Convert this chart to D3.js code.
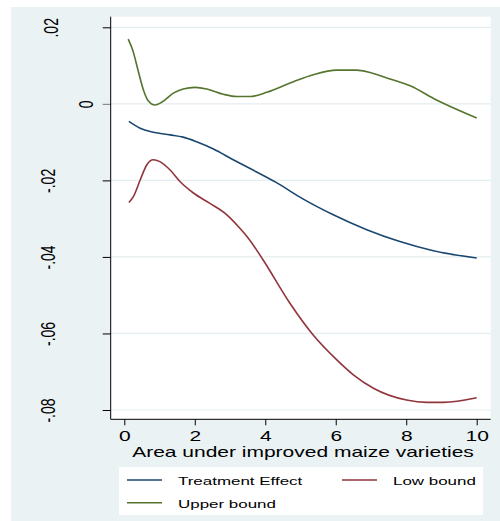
<!DOCTYPE html>
<html>
<head>
<meta charset="utf-8">
<script src="https://cdn.jsdelivr.net/npm/d3@7"></script>
<style>
  body { margin: 0; background: #fff; }
  svg { display: block; font-family: "Liberation Sans", Arial, sans-serif; }
</style>
</head>
<body>
<div id="chart"></div>
<script>
// values: [area, effect]
var treatment = [[0.13,-0.0046],[0.45,-0.0064],[0.82,-0.0074],[1.30,-0.0081],[1.67,-0.0087],
  [2.05,-0.0099],[2.53,-0.0118],[3.09,-0.0146],[3.57,-0.0169],[4.32,-0.0206],[5.08,-0.0249],
  [5.93,-0.0290],[6.88,-0.0329],[7.82,-0.0360],[8.77,-0.0384],[10.0,-0.0403]];

var upper = [[0.11,0.0169],[0.24,0.0140],[0.40,0.0084],[0.54,0.0037],[0.68,0.0008],[0.87,-0.0003],
  [1.06,0.0004],[1.39,0.0028],[1.67,0.0039],[2.01,0.0043],[2.34,0.0039],[2.81,0.0025],[3.19,0.0019],
  [3.57,0.0019],[4.04,0.0030],[4.80,0.0058],[5.36,0.0076],[6.03,0.0088],[6.59,0.0088],[6.97,0.0082],
  [7.54,0.0065],[8.11,0.0047],[8.86,0.0010],[10.0,-0.0037]];

var low = [[0.13,-0.0258],[0.26,-0.0242],[0.45,-0.0199],[0.64,-0.0159],[0.82,-0.0146],[1.01,-0.0151],
  [1.30,-0.0173],[1.58,-0.0203],[1.96,-0.0233],[2.43,-0.0260],[2.91,-0.0290],[3.28,-0.0325],
  [3.52,-0.0351],[3.94,-0.0408],[4.70,-0.0521],[5.36,-0.0604],[6.03,-0.0669],[6.50,-0.0708],
  [7.07,-0.0743],[8.01,-0.0774],[8.58,-0.0780],[9.05,-0.0780],[10.0,-0.0768]];

var xTicks = [0, 2, 4, 6, 8, 10];
var yTicks = [0.02, 0, -0.02, -0.04, -0.06, -0.08];
var yTickLabels = [".02", "0", "-.02", "-.04", "-.06", "-.08"];
var seriesNames = ["Treatment Effect", "Low bound", "Upper bound"];
var seriesColors = ["#1a476f", "#90353b", "#55752f"];

var W = 500, H = 521;
var plot = {left: 110.7, right: 490.7, top: 16.7, bottom: 419.3};
var stretch = 1.5; // text in the picture is widened horizontally

var svg = d3.select("#chart").append("svg")
    .attr("width", W)
    .attr("height", H);

// graph region + plot region
svg.append("rect").attr("x", 11).attr("y", 7).attr("width", W - 11).attr("height", H - 7)
    .attr("fill", "#eaf2f3");
svg.append("rect").attr("x", plot.left).attr("y", plot.top)
    .attr("width", plot.right - plot.left).attr("height", plot.bottom - plot.top)
    .attr("fill", "#fff");

var x = d3.scaleLinear().domain([0, 10]).range([124.3, 476.7]);
var y = d3.scaleLinear().domain([-0.08, 0.02]).range([410, 27.3]);

// gridlines
svg.append("g").selectAll("line")
    .data(yTicks)
    .enter().append("line")
    .attr("x1", plot.left).attr("x2", plot.right)
    .attr("y1", function(d) { return y(d); })
    .attr("y2", function(d) { return y(d); })
    .attr("stroke", "#e4edef")
    .attr("stroke-width", 1.2);

// x axis
var xAxis = svg.append("g")
    .attr("transform", "translate(0," + plot.bottom + ")")
    .call(d3.axisBottom(x).tickValues(xTicks).tickSize(6).tickPadding(6).tickFormat(d3.format("d")));
xAxis.select(".domain").remove();
xAxis.selectAll("line").attr("stroke", "#000");
xAxis.selectAll("text")
    .attr("font-size", 14)
    .attr("fill", "#000")
    .attr("transform", "scale(" + stretch + ",1)");

// y axis
var yAxis = svg.append("g")
    .attr("transform", "translate(" + plot.left + ",0)")
    .call(d3.axisLeft(y).tickValues(yTicks).tickSize(8).tickFormat(function(d, i) { return yTickLabels[i]; }));
yAxis.select(".domain").remove();
yAxis.selectAll("line").attr("stroke", function(d) { return d === 0 ? "#777" : "#000"; });
yAxis.selectAll("text")
    .attr("font-size", 14)
    .attr("fill", "#000")
    .attr("x", 0).attr("y", 0).attr("dy", 0)
    .attr("text-anchor", "middle")
    .attr("transform", function(d, i) {
        // single-char label sits close to the axis, longer ones further out
        var off = yTickLabels[i].length === 1 ? -17.7 : (d > 0 ? -52.7 : -55.7);
        return "translate(" + off + ",0) scale(" + stretch + ",1) rotate(-90)";
    });

// axis lines
svg.append("line").attr("x1", plot.left).attr("x2", plot.left)
    .attr("y1", plot.top).attr("y2", plot.bottom).attr("stroke", "#000");
svg.append("line").attr("x1", plot.left).attr("x2", plot.right)
    .attr("y1", plot.bottom).attr("y2", plot.bottom).attr("stroke", "#000");

// axis title
svg.append("text")
    .attr("transform", "translate(303,457) scale(" + stretch + ",1)")
    .attr("text-anchor", "middle")
    .attr("font-size", 14)
    .text("Area under improved maize varieties");

// lines
var line = d3.line()
    .x(function(d) { return x(d[0]); })
    .y(function(d) { return y(d[1]); })
    .curve(d3.curveMonotoneX);

[treatment, low, upper].forEach(function(s, i) {
    svg.append("path")
        .datum(s)
        .attr("d", line)
        .attr("fill", "none")
        .attr("stroke", seriesColors[i])
        .attr("stroke-width", 1.6);
});

// legend
svg.append("rect").attr("x", 119).attr("y", 467).attr("width", 364).attr("height", 48)
    .attr("fill", "#fff");
var legPos = [[127, 480], [342, 480], [127, 502.7]];
var leg = svg.append("g").selectAll("g")
    .data(seriesNames)
    .enter().append("g")
    .attr("transform", function(d, i) { return "translate(" + legPos[i][0] + "," + legPos[i][1] + ")"; });
leg.append("line")
    .attr("x1", 0).attr("x2", 35)
    .attr("stroke", function(d, i) { return seriesColors[i]; })
    .attr("stroke-width", 1.6);
leg.append("text")
    .attr("transform", "translate(51,5) scale(" + stretch + ",1)")
    .attr("font-size", 11.3)
    .text(function(d) { return d; });
</script>
</body>
</html>
